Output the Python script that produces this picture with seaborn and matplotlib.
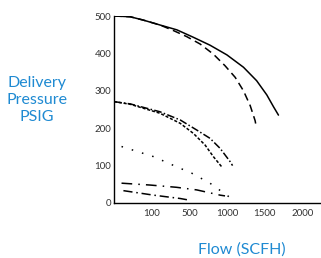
import numpy as np
import pandas as pd
import matplotlib
matplotlib.use("Agg")
import matplotlib.pyplot as plt
import seaborn as sns

# ---- Data (x in tick positions, y in PSIG) ----
x_tick_pos = [1, 2, 3, 4, 5]
x_tick_labels = ['100', '500', '1000', '1500', '2000']
y_ticks = [0, 100, 200, 300, 400, 500]

solid_x = [0.0, 0.43, 0.78, 1.22, 1.67, 2.11, 2.55, 3.0, 3.44, 3.79, 4.06, 4.24, 4.37]
solid_y = [500, 498, 489, 476, 463, 443, 422, 396, 363, 327, 289, 257, 235]

dashed_x = [0.0, 0.43, 0.78, 1.22, 1.58, 1.93, 2.29, 2.64, 2.95, 3.22, 3.44, 3.62, 3.75, 3.77]
dashed_y = [500, 498, 489, 476, 461, 445, 425, 398, 367, 336, 300, 260, 220, 209]

dashdot_x = [0.0, 0.43, 1.22, 1.76, 2.2, 2.55, 2.82, 3.09, 3.15]
dashdot_y = [271, 265, 244, 222, 195, 173, 146, 110, 100]

short_x = [0.0, 0.43, 1.22, 1.76, 2.11, 2.42, 2.64, 2.86]
short_y = [271, 264, 240, 213, 186, 155, 124, 97]

dotted_x = [0.2, 1.05, 1.66, 2.06, 2.55, 3.05]
dotted_y = [151, 124, 97, 80, 53, 17]

longdd_x = [0.2, 0.96, 1.66, 2.2, 2.82, 2.95]
longdd_y = [53, 48, 42, 35, 21, 19]

lowdd_x = [0.25, 1.05, 1.76, 1.98]
lowdd_y = [33, 21, 12, 8]

curves = [
    (solid_x, solid_y, '-'),
    (dashed_x, dashed_y, (0, (5, 3))),
    (dashdot_x, dashdot_y, (0, (5, 1.5, 1, 1.5))),
    (short_x, short_y, (0, (2, 1.2))),
    (dotted_x, dotted_y, (0, (1, 6))),
    (longdd_x, longdd_y, (0, (7, 4, 1, 4))),
    (lowdd_x, lowdd_y, (0, (6, 2.5, 1, 2.5))),
]

sns.set_theme(style="white")
plt.rcParams['font.family'] = ['Lato', 'DejaVu Sans']

fig = plt.figure(figsize=(3.21, 2.58), dpi=100)
ax = fig.add_axes([114 / 321, 55 / 258, 207 / 321, 187 / 258])

for xs, ys, ls in curves:
    df = pd.DataFrame({'x': xs, 'y': ys})
    sns.lineplot(data=df, x='x', y='y', ax=ax, color='black', linewidth=1.1,
                 linestyle=ls, sort=False, estimator=None)

ax.set_xlim(0, 5.5)
ax.set_ylim(0, 500)
ax.set_xticks(x_tick_pos)
ax.set_xticklabels(x_tick_labels)
ax.set_yticks(y_ticks)
ax.tick_params(axis='both', direction='in', length=7, width=1, colors='black',
               labelsize=7, labelcolor='#333333', pad=2)
ax.tick_params(axis='x', pad=4)
for side in ['top', 'right']:
    ax.spines[side].set_visible(False)
for side in ['left', 'bottom']:
    ax.spines[side].set_color('black')
    ax.spines[side].set_linewidth(1)
ax.set_xlabel('')
ax.set_ylabel('')
ax.grid(False)

blue = '#1f8ad2'
fig.text(37 / 321, 1 - 100 / 258, 'Delivery\nPressure\nPSIG', color=blue,
         fontsize=11.5, ha='center', va='center', linespacing=1.3)
fig.text(242 / 321, 1 - 250 / 258, 'Flow (SCFH)', color=blue,
         fontsize=11.5, ha='center', va='center')

fig.savefig('out.png', dpi=100)
